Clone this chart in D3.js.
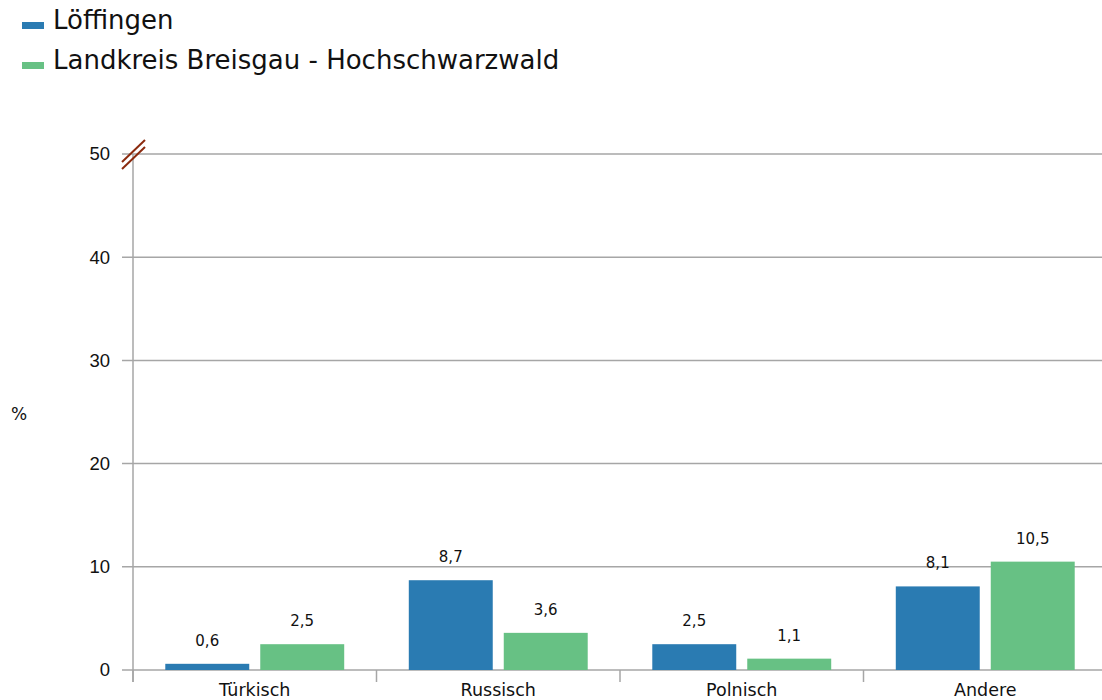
<!DOCTYPE html>
<html lang="de">
<head>
<meta charset="UTF-8">
<title>Sprachen</title>
<script src="https://cdnjs.cloudflare.com/ajax/libs/d3/7.8.5/d3.min.js"></script>
<style>
  body { margin: 0; background: #fff; font-family: "DejaVu Sans", sans-serif; }
  svg text { fill: #111; }
</style>
</head>
<body>
<svg id="chart" width="1102" height="700"></svg>
<script>
// data
const categories = ["Türkisch", "Russisch", "Polnisch", "Andere"];
const seriesNames = ["Löffingen", "Landkreis Breisgau - Hochschwarzwald"];
const loeffingen = [0.6, 8.7, 2.5, 8.1];
const landkreis = [2.5, 3.6, 1.1, 10.5];
const yTicks = [0, 10, 20, 30, 40, 50];
const colors = ["#2a7bb2", "#67c184"];

const svg = d3.select("#chart");
const plotLeft = 133, plotRight = 1107, plotTop = 154, plotBottom = 670;

const x = d3.scaleBand().domain(categories).range([plotLeft, plotRight]);
const inner = d3.scaleBand().domain([0, 1]).range([0, x.bandwidth()])
    .paddingInner(0.116).paddingOuter(0.34);
const y = d3.scaleLinear().domain([0, 50]).range([plotBottom, plotTop]);

// gridlines
svg.append("g")
  .selectAll("line")
  .data(yTicks)
  .join("line")
    .attr("x1", plotLeft - 11).attr("x2", 1102)
    .attr("y1", d => y(d)).attr("y2", d => y(d))
    .attr("stroke", "#a6a6a6").attr("stroke-width", 1.5);

// y axis line
svg.append("line")
  .attr("x1", plotLeft).attr("x2", plotLeft)
  .attr("y1", plotTop).attr("y2", plotBottom + 12)
  .attr("stroke", "#a6a6a6").attr("stroke-width", 1.5);

// y tick labels
svg.append("g")
  .selectAll("text")
  .data(yTicks)
  .join("text")
    .attr("x", 110).attr("y", d => y(d))
    .attr("dy", "0.35em")
    .attr("text-anchor", "end")
    .attr("font-family", "'Liberation Sans', Arial, sans-serif")
    .attr("font-size", 18.5)
    .text(d => d);

// category ticks
const catTicks = categories.map(c => x(c)).concat([plotRight]);
svg.append("g")
  .selectAll("line")
  .data(catTicks)
  .join("line")
    .attr("x1", d => d).attr("x2", d => d)
    .attr("y1", plotBottom).attr("y2", plotBottom + 12)
    .attr("stroke", "#a6a6a6").attr("stroke-width", 1.5);

// category labels
svg.append("g")
  .selectAll("text")
  .data(categories)
  .join("text")
    .attr("x", d => x(d) + x.bandwidth() / 2)
    .attr("y", 696)
    .attr("text-anchor", "middle")
    .attr("font-size", 17.5)
    .text(d => d);

// bars
const series = [loeffingen, landkreis];
series.forEach((vals, si) => {
  const g = svg.append("g");
  g.selectAll("rect")
    .data(vals)
    .join("rect")
      .attr("x", (d, i) => x(categories[i]) + inner(si))
      .attr("width", inner.bandwidth())
      .attr("y", d => y(d))
      .attr("height", d => plotBottom - y(d))
      .attr("fill", colors[si]);
  g.selectAll("text")
    .data(vals)
    .join("text")
      .attr("x", (d, i) => x(categories[i]) + inner(si) + inner.bandwidth() / 2)
      .attr("y", d => y(d) - 18)
      .attr("text-anchor", "middle")
      .attr("font-size", 15)
      .text(d => d3.format(".1f")(d).replace(".", ","));
});

// axis break mark
[0, 7].forEach(off => {
  svg.append("line")
    .attr("x1", 122).attr("y1", 162 + off)
    .attr("x2", 145).attr("y2", 140 + off)
    .attr("stroke", "#8b2a0e").attr("stroke-width", 2);
});

// y axis title
svg.append("text")
  .attr("x", 19).attr("y", 420)
  .attr("text-anchor", "middle")
  .attr("font-size", 17)
  .text("%");

// legend
const legend = svg.append("g");
seriesNames.forEach((name, i) => {
  legend.append("rect")
    .attr("x", 22).attr("y", 22 + i * 40)
    .attr("width", 22).attr("height", 7)
    .attr("fill", colors[i]);
  legend.append("text")
    .attr("x", 53).attr("y", 29 + i * 40)
    .attr("font-size", 26)
    .text(name);
});
</script>
</body>
</html>
